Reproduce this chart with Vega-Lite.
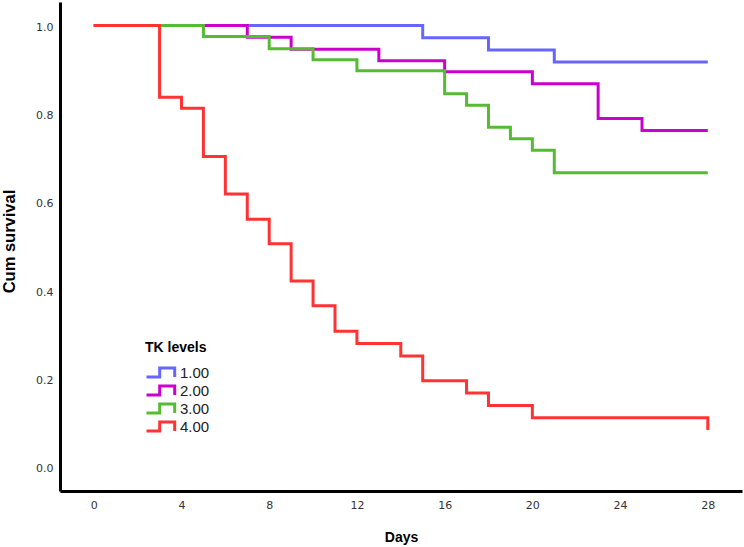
{
  "$schema": "https://vega.github.io/schema/vega-lite/v6.json",
  "width": 682,
  "height": 489,
  "autosize": {"type": "none"},
  "padding": {"left": 60, "top": 2, "right": 2, "bottom": 56},
  "background": "white",
  "config": {"view": {"stroke": null}},
  "data": {
    "values": [
      {"group": "1.00", "day": 0, "surv": 1.0},
      {"group": "1.00", "day": 15, "surv": 0.972},
      {"group": "1.00", "day": 18, "surv": 0.944},
      {"group": "1.00", "day": 21, "surv": 0.917},
      {"group": "1.00", "day": 28, "surv": 0.917},
      {"group": "2.00", "day": 0, "surv": 1.0},
      {"group": "2.00", "day": 7, "surv": 0.973},
      {"group": "2.00", "day": 9, "surv": 0.946},
      {"group": "2.00", "day": 13, "surv": 0.92},
      {"group": "2.00", "day": 16, "surv": 0.895},
      {"group": "2.00", "day": 20, "surv": 0.868},
      {"group": "2.00", "day": 23, "surv": 0.789},
      {"group": "2.00", "day": 25, "surv": 0.762},
      {"group": "2.00", "day": 28, "surv": 0.762},
      {"group": "3.00", "day": 0, "surv": 1.0},
      {"group": "3.00", "day": 5, "surv": 0.975},
      {"group": "3.00", "day": 8, "surv": 0.947},
      {"group": "3.00", "day": 10, "surv": 0.922},
      {"group": "3.00", "day": 12, "surv": 0.897},
      {"group": "3.00", "day": 16, "surv": 0.845},
      {"group": "3.00", "day": 17, "surv": 0.819},
      {"group": "3.00", "day": 18, "surv": 0.769},
      {"group": "3.00", "day": 19, "surv": 0.743},
      {"group": "3.00", "day": 20, "surv": 0.717},
      {"group": "3.00", "day": 21, "surv": 0.666},
      {"group": "3.00", "day": 28, "surv": 0.666},
      {"group": "4.00", "day": 0, "surv": 1.0},
      {"group": "4.00", "day": 3, "surv": 0.837},
      {"group": "4.00", "day": 4, "surv": 0.812},
      {"group": "4.00", "day": 5, "surv": 0.703},
      {"group": "4.00", "day": 6, "surv": 0.618},
      {"group": "4.00", "day": 7, "surv": 0.561},
      {"group": "4.00", "day": 8, "surv": 0.505},
      {"group": "4.00", "day": 9, "surv": 0.421},
      {"group": "4.00", "day": 10, "surv": 0.365},
      {"group": "4.00", "day": 11, "surv": 0.307},
      {"group": "4.00", "day": 12, "surv": 0.279},
      {"group": "4.00", "day": 14, "surv": 0.251},
      {"group": "4.00", "day": 15, "surv": 0.195},
      {"group": "4.00", "day": 17, "surv": 0.167},
      {"group": "4.00", "day": 18, "surv": 0.139},
      {"group": "4.00", "day": 20, "surv": 0.111},
      {"group": "4.00", "day": 28, "surv": 0.083}
    ]
  },
  "mark": {"type": "line", "interpolate": "step-after", "strokeWidth": 3, "clip": true},
  "encoding": {
    "x": {
      "field": "day", "type": "quantitative",
      "scale": {"domain": [-1.54, 29.56], "nice": false, "zero": false},
      "axis": {
        "title": "Days", "values": [0, 4, 8, 12, 16, 20, 24, 28],
        "grid": false, "ticks": false, "domainColor": "black", "domainWidth": 3,
        "labelFont": "DejaVu Sans", "labelFontSize": 11, "labelColor": "#333333", "labelPadding": 8,
        "titleFont": "Liberation Sans", "titleFontSize": 14, "titleFontWeight": "bold", "titleColor": "black", "titlePadding": 20
      }
    },
    "y": {
      "field": "surv", "type": "quantitative",
      "scale": {"domain": [-0.055, 1.053], "nice": false, "zero": false},
      "axis": {
        "title": "Cum survival", "values": [0, 0.2, 0.4, 0.6, 0.8, 1.0], "format": ".1f",
        "grid": false, "ticks": false, "domainColor": "black", "domainWidth": 3,
        "labelFont": "DejaVu Sans", "labelFontSize": 11, "labelColor": "#333333", "labelPadding": 7, "labelOffset": 2,
        "titleFont": "Liberation Sans", "titleFontSize": 16.5, "titleFontWeight": "bold", "titleColor": "black", "titlePadding": 18, "titleY": 239
      }
    },
    "color": {
      "field": "group", "type": "nominal",
      "scale": {"domain": ["1.00", "2.00", "3.00", "4.00"], "range": ["#6666ff", "#cc00cc", "#55bb33", "#ff3333"]},
      "legend": {
        "title": "TK levels", "orient": "none", "legendX": 85, "legendY": 339,
        "titleFont": "Liberation Sans", "titleFontSize": 14, "titleFontWeight": "bold", "titleColor": "black", "titlePadding": 10,
        "labelFont": "Liberation Sans", "labelFontSize": 15, "labelColor": "#222222", "labelOffset": 20,
        "symbolType": "M -1 0.75 H 1.2 V -0.75 H 3.7 V 0.75",
        "symbolSize": 144, "symbolStrokeWidth": 3, "symbolFillColor": "transparent",
        "rowPadding": -3.5
      }
    },
    "order": {"field": "day", "type": "quantitative"}
  }
}
